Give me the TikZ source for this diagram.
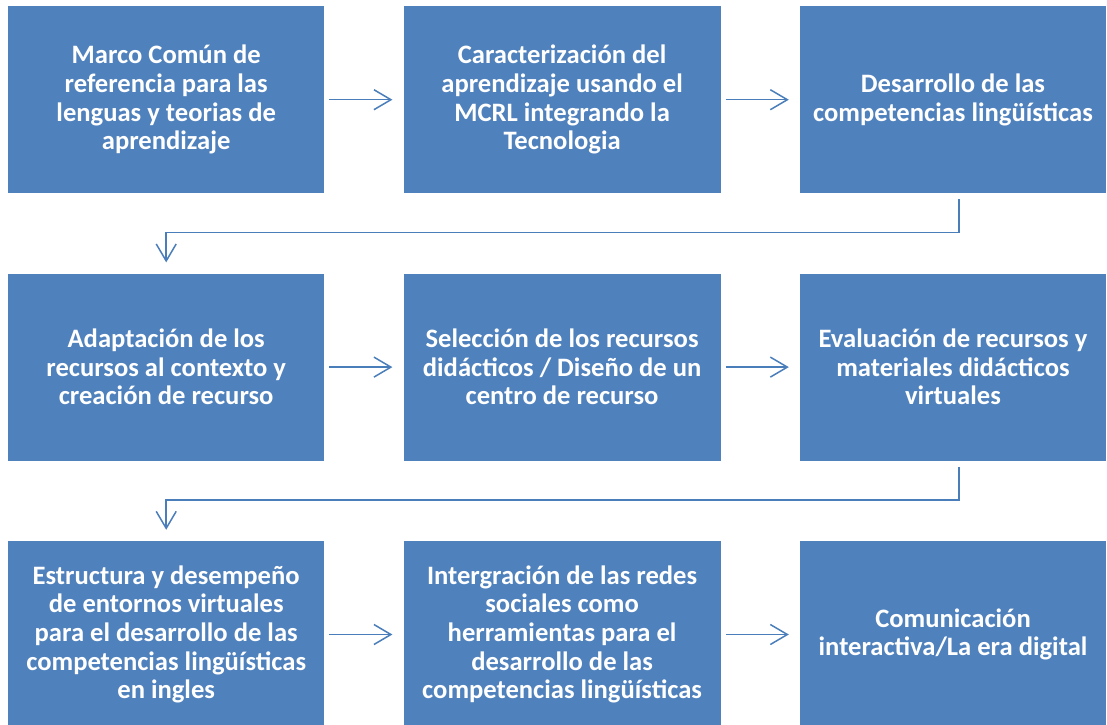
\documentclass[tikz,border=0pt]{standalone}
\usepackage{fontspec}
\setmainfont{Carlito}
\usetikzlibrary{positioning,arrows.meta}
\definecolor{boxblue}{HTML}{4F81BD}
\definecolor{linkblue}{HTML}{4A7EBB}

\begin{document}
\begin{tikzpicture}[node distance=80pt and 79pt, >={Straight Barb[length=17pt,width=20pt]},
                    stagebox/.style={rectangle, fill=boxblue, draw=none, text=white, align=center,
                                     minimum height=187pt, inner sep=0pt,
                                     font=\bfseries\fontsize{26.6}{28.6}\selectfont},
                    flowarrow/.style={->, linkblue, line width=1.5pt}]
  \useasboundingbox (0,0) rectangle (1107pt,-724pt);
  % first row
  \node (marco) [stagebox, minimum width=316pt, anchor=north west] at (8pt,-6pt)
        {Marco Común de\\referencia para las\\lenguas y teorias de\\aprendizaje};
  \node (caract) [stagebox, minimum width=317pt, right=of marco]
        {Caracterización del\\aprendizaje usando el\\MCRL integrando la\\Tecnologia};
  \node (desarrollo) [stagebox, minimum width=306pt, right=of caract]
        {Desarrollo de las\\competencias lingüísticas};
  % second row
  \node (adapt) [stagebox, minimum width=316pt, below=of marco]
        {Adaptación de los\\recursos al contexto y\\creación de recurso};
  \node (seleccion) [stagebox, minimum width=317pt, right=of adapt]
        {Selección de los recursos\\didácticos / Diseño de un\\centro de recurso};
  \node (evaluacion) [stagebox, minimum width=306pt, right=of seleccion]
        {Evaluación de recursos y\\materiales didácticos\\virtuales};
  % third row
  \node (estructura) [stagebox, minimum width=316pt, below=of adapt]
        {Estructura y desempeño\\de entornos virtuales\\para el desarrollo de las\\competencias lingüísticas\\en ingles};
  \node (integracion) [stagebox, minimum width=317pt, right=of estructura]
        {Intergración de las redes\\sociales como\\herramientas para el\\desarrollo de las\\competencias lingüísticas};
  \node (comunicacion) [stagebox, minimum width=306pt, right=of integracion]
        {Comunicación\\interactiva/La era digital};

  \draw[flowarrow, shorten <=5pt, shorten >=11pt] (marco) -- (caract);
  \draw[flowarrow, shorten <=5pt, shorten >=11pt] (caract) -- (desarrollo);
  \draw[flowarrow, shorten <=5pt, shorten >=11pt] (adapt) -- (seleccion);
  \draw[flowarrow, shorten <=5pt, shorten >=11pt] (seleccion) -- (evaluacion);
  \draw[flowarrow, shorten <=5pt, shorten >=11pt] (estructura) -- (integracion);
  \draw[flowarrow, shorten <=5pt, shorten >=11pt] (integracion) -- (comunicacion);

  \draw[flowarrow] ([xshift=6pt,yshift=-6pt]desarrollo.south) -- ++(0,-33pt) -| ([yshift=11pt]adapt.north);
  \draw[flowarrow] ([xshift=6pt,yshift=-6pt]evaluacion.south) -- ++(0,-33pt) -| ([yshift=11pt]estructura.north);
\end{tikzpicture}
\end{document}
